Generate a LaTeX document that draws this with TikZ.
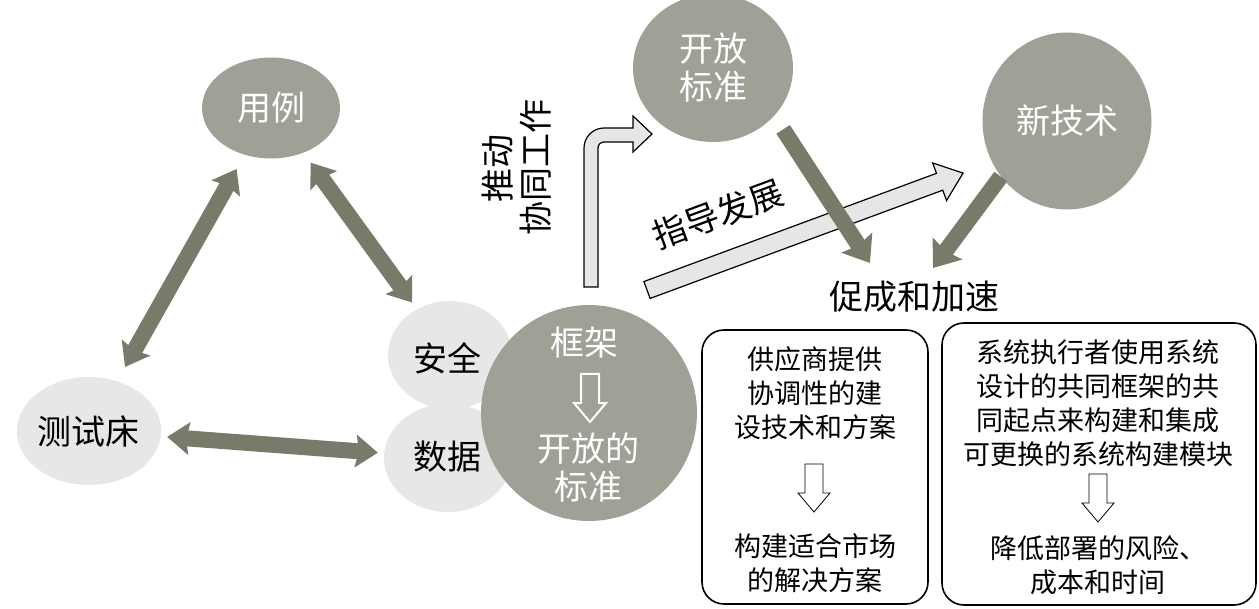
\documentclass[tikz,border=0pt]{standalone}
\usepackage{fontspec}
\setmainfont{Noto Sans CJK SC}
\usepackage{tikz}
\usetikzlibrary{shapes.geometric}
\usetikzlibrary{arrows.meta}
\definecolor{circdark}{RGB}{161,160,150}
\definecolor{circlight}{RGB}{231,231,231}
\definecolor{arrdark}{RGB}{122,122,107}
\definecolor{arrlight}{RGB}{230,230,230}

\begin{document}
\begin{tikzpicture}[x=0.5pt,y=-0.5pt]
\tikzstyle{big}=[font=\fontsize{17pt}{19pt}\selectfont,align=center,inner sep=0pt]
\tikzstyle{dark}=[ellipse,fill=circdark,text=white,big]
\tikzstyle{light}=[ellipse,fill=circlight,big]
\tikzstyle{boxtext}=[font=\fontsize{13.5pt}{17pt}\selectfont,align=center,inner sep=0pt]
\tikzstyle{box}=[draw,rounded corners=11pt,line width=0.8pt]
\tikzstyle{twoway}=[draw=arrdark,line width=8pt,{Stealth[inset=1.5pt,width=16pt,length=11pt]}-{Stealth[inset=1.5pt,width=16pt,length=11pt]}]
\tikzstyle{oneway}=[draw=arrdark,line width=8pt,-{Stealth[inset=1.5pt,width=18pt,length=12pt]}]
\tikzstyle{hollow}=[draw=black,fill=arrlight,line width=0.6pt]
\tikzset{downarrow/.pic={\draw[pic actions] (-9,0) -- (9,0) -- (9,29) -- (16,29) -- (0,48) -- (-16,29) -- (-9,29) -- cycle;}}

\useasboundingbox (0,0) rectangle (1259,609);

    % triangle part
    \node[dark,minimum width=69pt,minimum height=50.5pt](yongli) at (271,108){用例};
    \node[light,minimum width=68pt,minimum height=54pt](ceshi) at (89,431){测试床};
    \node[light,minimum width=62pt,minimum height=54pt](anquan) at (450,355){};
    \node[light,minimum width=64pt,minimum height=54pt](shuju) at (448,458){};
    \node[big](anquantext) at (447,358){安全};
    \node[big](shujutext) at (447,457){数据};
    \node[dark,circle,minimum size=108pt](kuangjia) at (589,413){};
    \node[big,text=white](kuangjiatext) at (584,343){框架};
    \pic[draw=white,fill=circdark,line width=1pt] at (590,374){downarrow};
    \node[big,text=white](kaifangde) at (588,468){开放的\\标准};

    \node[dark,minimum width=80pt,minimum height=74pt](kaifang) at (713,68){开放\\标准};
    \node[dark,minimum width=84.5pt,minimum height=88.5pt](xinjishu) at (1067,121){新技术};

    \draw[twoway,shorten <=8pt,shorten >=8pt](yongli)--(ceshi);
    \draw[twoway,shorten <=6pt,shorten >=4pt](yongli)--(anquan);
    \draw[twoway,shorten <=3pt,shorten >=3pt](ceshi)--(shuju);

    % hollow arrows
    \draw[hollow](584,287)--(584,148) arc[start angle=180,end angle=90,radius=10pt]
        --(633,128)--(633,116)--(652,134)--(633,152)--(633,142)--(604,142)
        arc[start angle=90,end angle=180,radius=3pt]--(598,287)--cycle;
    \node[big,rotate=90](tuidong) at (517,168){推动\\协同工作};
    \begin{scope}[shift={(647,290)},rotate=20.3]
    \draw[hollow](0,-9)--(312,-9)--(312,-20)--(337,0)--(312,20)--(312,9)--(0,9)--cycle;
    \end{scope}
    \node[big,rotate=20.3](zhidao) at (718,214){指导发展};

    \coordinate(cuA) at (870,263);
    \coordinate(cuB) at (933,268);
    \draw[oneway,shorten <=8pt](kaifang.-38)--(cuA);
    \draw[oneway](xinjishu.220)--(cuB);
    \node[big](cucheng) at (914,297){促成和加速};

    % boxes
    \node[box,minimum width=113pt,minimum height=137pt](leftbox) at (815,467){};
    \node[boxtext](supplier) at (815,393){供应商提供\\协调性的建\\设技术和方案};
    \pic[draw=black,fill=white] at (814,464){downarrow};
    \node[boxtext](market) at (815,563){构建适合市场\\的解决方案};
    \node[box,minimum width=157pt,minimum height=141pt](rightbox) at (1099,464){};
    \node[boxtext](integrator) at (1098,403){系统执行者使用系统\\设计的共同框架的共\\同起点来构建和集成\\可更换的系统构建模块};
    \pic[draw=black,fill=white] at (1098,474){downarrow};
    \node[boxtext](risk) at (1098,565){降低部署的风险、\\成本和时间};
\end{tikzpicture}
\end{document}
